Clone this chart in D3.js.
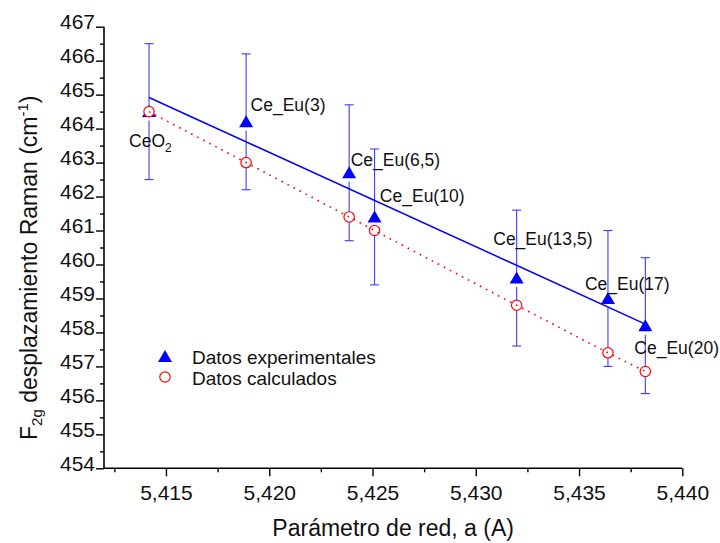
<!DOCTYPE html>
<html>
<head>
<meta charset="utf-8">
<script src="https://cdn.jsdelivr.net/npm/d3@7"></script>
<style>
  html, body { margin: 0; padding: 0; background: #fff; }
  svg { display: block; font-family: "Liberation Sans", Arial, sans-serif; }
</style>
</head>
<body>
<svg id="chart" width="720" height="543"></svg>
<script>
// ---- data ----
const sampleLabels = ["CeO2", "Ce_Eu(3)", "Ce_Eu(6,5)", "Ce_Eu(10)", "Ce_Eu(13,5)", "Ce_Eu(17)", "Ce_Eu(20)"];
const latticeA   = [5.41418, 5.41888, 5.42387, 5.42510, 5.43198, 5.43640, 5.43821];
const ramanExp   = [464.5, 464.2, 462.7, 461.4, 459.6, 459.0, 458.2];
const ramanErr   = [2, 2, 2, 2, 2, 2, 2];
const ramanCalc  = [464.5, 463.0, 461.4, 461.0, 458.8, 457.4, 456.85];
const xTickValues = [5.415, 5.420, 5.425, 5.430, 5.435, 5.440];
const xMinorValues = [5.4125, 5.4175, 5.4225, 5.4275, 5.4325, 5.4375];
const yTickValues = [454, 455, 456, 457, 458, 459, 460, 461, 462, 463, 464, 465, 466, 467];
const yMinorValues = [454.5, 455.5, 456.5, 457.5, 458.5, 459.5, 460.5, 461.5, 462.5, 463.5, 464.5, 465.5, 466.5];
const legendLabels = ["Datos experimentales", "Datos calculados"];

// label offsets (layout only, pixels relative to experimental point)
const labelOffsets = [[-20, 35], [4.5, -11], [1.5, -6.7], [5.3, -15], [-23.4, -33], [-23, -8.5], [-11, 28.4]];

const svg = d3.select("#chart");
const x = d3.scaleLinear().domain([5.412, 5.440]).range([104, 682.3]);
const y = d3.scaleLinear().domain([454, 467]).range([468.3, 26.7]);

const blue = "#0000ff", errBlue = "#3b3bff", red = "#ff0000";

// ---- axes ----
const fmt = v => d3.format(".3f")(v).replace(".", ",");
const xAxis = svg.append("g").attr("transform", `translate(0,${y(454)})`)
  .call(d3.axisBottom(x).tickValues(xTickValues).tickFormat(fmt).tickSize(8).tickSizeOuter(0).tickPadding(6));
svg.append("g").attr("transform", `translate(0,${y(454)})`)
  .call(d3.axisBottom(x).tickValues(xMinorValues).tickFormat("").tickSize(4).tickSizeOuter(0))
  .select(".domain").remove();
const yAxis = svg.append("g").attr("transform", `translate(${x(5.412)},0)`)
  .call(d3.axisLeft(y).tickValues(yTickValues).tickFormat(d3.format("d")).tickSize(8).tickSizeOuter(0).tickPadding(1));
svg.append("g").attr("transform", `translate(${x(5.412)},0)`)
  .call(d3.axisLeft(y).tickValues(yMinorValues).tickFormat("").tickSize(4).tickSizeOuter(0))
  .select(".domain").remove();

svg.selectAll(".domain").attr("stroke", "#000").attr("stroke-width", 1.6);
svg.selectAll(".tick line").attr("stroke", "#000").attr("stroke-width", 1.4);
xAxis.selectAll(".tick text").attr("font-size", 21).attr("fill", "#111").attr("font-family", "Liberation Sans, Arial, sans-serif")
  .attr("dy", "0").attr("y", 32);
yAxis.selectAll(".tick text").attr("font-size", 21).attr("fill", "#111").attr("font-family", "Liberation Sans, Arial, sans-serif")
  .attr("dy", "0").attr("y", 2);
xAxis.select(".domain").attr("d", `M${x(5.412)},0H${x(5.440)}`);
yAxis.select(".domain").attr("d", `M0,${y(454)}V${y(467)}`);

// axis titles
svg.append("text").attr("x", (x(5.412) + x(5.440)) / 2).attr("y", 536)
  .attr("text-anchor", "middle").attr("font-size", 23).attr("fill", "#111")
  .text("Parámetro de red, a (A)");

const yt = svg.append("text").attr("transform", "translate(37,440) rotate(-90)")
  .attr("text-anchor", "start").attr("font-size", 23).attr("fill", "#111");
yt.append("tspan").text("F");
yt.append("tspan").attr("font-size", 15).attr("dy", 5).text("2g");
yt.append("tspan").attr("dy", -5).text(" desplazamiento Raman (cm");
yt.append("tspan").attr("font-size", 15).attr("dy", -9).text("-1");
yt.append("tspan").attr("dy", 9).text(")");

// ---- data layer ----
const pts = latticeA.map((a, i) => ({ a, exp: ramanExp[i], err: ramanErr[i], calc: ramanCalc[i], label: sampleLabels[i], off: labelOffsets[i] }));

// linear regression of experimental data
const mx = d3.mean(latticeA), my = d3.mean(ramanExp);
const slope = d3.sum(pts, p => (p.a - mx) * (p.exp - my)) / d3.sum(pts, p => (p.a - mx) ** 2);
const fit = a => my + slope * (a - mx);
const aExt = d3.extent(latticeA);

// error bars
const eb = svg.append("g").attr("stroke", errBlue).attr("stroke-width", 1.1).attr("fill", "none");
pts.forEach(p => {
  const cx = x(p.a), cy = y(p.exp), top = y(p.exp + p.err), bot = y(p.exp - p.err);
  eb.append("line").attr("x1", cx).attr("x2", cx).attr("y1", top).attr("y2", cy - 5);
  eb.append("line").attr("x1", cx).attr("x2", cx).attr("y1", cy + 9).attr("y2", bot);
  eb.append("line").attr("x1", cx - 4.5).attr("x2", cx + 4.5).attr("y1", top).attr("y2", top);
  eb.append("line").attr("x1", cx - 4.5).attr("x2", cx + 4.5).attr("y1", bot).attr("y2", bot);
});

// fit line
svg.append("line").attr("x1", x(aExt[0])).attr("y1", y(fit(aExt[0])))
  .attr("x2", x(aExt[1])).attr("y2", y(fit(aExt[1])))
  .attr("stroke", blue).attr("stroke-width", 1.5);

// triangles
const tri = "M0,-6.5L7,5.5L-7,5.5Z";
svg.append("g").selectAll("path").data(pts).join("path")
  .attr("d", tri).attr("transform", p => `translate(${x(p.a)},${y(p.exp)})`)
  .attr("fill", blue);

// circles
svg.append("g").selectAll("circle").data(pts).join("circle")
  .attr("cx", p => x(p.a)).attr("cy", p => y(p.calc)).attr("r", 5.2)
  .attr("fill", "#fff").attr("stroke", red).attr("stroke-width", 1.2);

// dotted calc line
svg.append("path").datum(pts)
  .attr("d", d3.line().x(p => x(p.a)).y(p => y(p.calc)))
  .attr("fill", "none").attr("stroke", red).attr("stroke-width", 1.6)
  .attr("stroke-dasharray", "1.6,5.2");

// labels
const lab = svg.append("g").attr("font-size", 17.5).attr("fill", "#111");
pts.forEach(p => {
  const t = lab.append("text").attr("x", x(p.a) + p.off[0]).attr("y", y(p.exp) + p.off[1]);
  if (p.label === "CeO2") {
    t.append("tspan").text("CeO");
    t.append("tspan").attr("font-size", 12).attr("dy", 5).text("2");
  } else {
    t.text(p.label);
  }
});

// legend
const lg = svg.append("g");
lg.append("path").attr("d", tri).attr("transform", "translate(165,356.5)").attr("fill", blue);
lg.append("circle").attr("cx", 165).attr("cy", 377).attr("r", 5.2).attr("fill", "#fff").attr("stroke", red).attr("stroke-width", 1.2);
lg.append("text").attr("x", 192).attr("y", 363.5).attr("font-size", 19).attr("fill", "#111").text(legendLabels[0]);
lg.append("text").attr("x", 192).attr("y", 385).attr("font-size", 19).attr("fill", "#111").text(legendLabels[1]);
</script>
</body>
</html>
